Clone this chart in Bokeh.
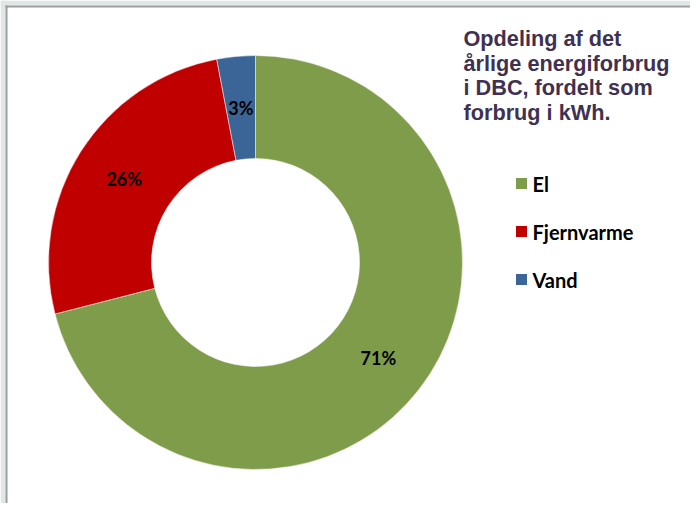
import numpy as np
from bokeh.plotting import figure, ColumnDataSource
from bokeh.models import Range1d, BoxAnnotation
from bokeh.core.properties import value
from bokeh.embed import file_html
from bokeh.resources import INLINE

# ---- data ----
categories = ["El", "Fjernvarme", "Vand"]
shares = [71, 26, 3]
colors = ["#7f9c4a", "#c00000", "#3a6596"]
title_lines = ["Opdeling af det", "årlige energiforbrug", "i DBC, fordelt som", "forbrug i kWh."]

W, H = 690, 503
p = figure(width=W, height=H, output_backend="svg", toolbar_location=None,
           x_range=Range1d(0, W), y_range=Range1d(0, H),
           x_axis_location=None, y_axis_location=None,
           min_border=0, outline_line_color=None, background_fill_color="white",
           border_fill_color="white")
p.grid.visible = False

def X(sx):
    return sx
def Y(sy):
    return H - sy

# page frame (light band + grey rule on top and left)
p.add_layout(BoxAnnotation(left=0, right=5, fill_color="#e1e6e6", fill_alpha=1, line_color=None))
p.add_layout(BoxAnnotation(bottom=H - 5, top=H, fill_color="#e1e6e6", fill_alpha=1, line_color=None))
p.add_layout(BoxAnnotation(left=5, right=7, bottom=0, top=H - 5, fill_color="#9a9e9e", fill_alpha=1, line_color=None))
p.add_layout(BoxAnnotation(left=5, bottom=H - 7, top=H - 5, fill_color="#9a9e9e", fill_alpha=1, line_color=None))

# donut geometry (layout)
cx, cy = X(255), Y(262)
r_out, r_in = 207, 104

vals = np.array(shares, dtype=float)
frac = vals / vals.sum()
cum = np.concatenate([[0], np.cumsum(frac)])
start = np.pi / 2 - 2 * np.pi * cum[:-1]
end = np.pi / 2 - 2 * np.pi * cum[1:]
mid = (start + end) / 2
r_lab = (r_out + r_in) / 2

src = ColumnDataSource(dict(cat=categories, start=start, end=end, color=colors,
                            lx=cx + r_lab * np.cos(mid), ly=cy + r_lab * np.sin(mid),
                            lab=[f"{v:g}%" for v in shares]))
p.annular_wedge(x=cx, y=cy, inner_radius=r_in, outer_radius=r_out,
                start_angle="start", end_angle="end", direction="clock",
                fill_color="color", line_color="white", line_width=0.5, source=src)
p.text(x="lx", y="ly", text="lab", source=src, text_align="center", text_baseline="middle",
       text_font=value("Lato"), text_font_style="bold", text_font_size="18px", text_color="black")

# legend (manual)
lg_x, lg_y0, lg_dy = X(521), Y(183), 48
ly = [lg_y0 - i * lg_dy for i in range(len(categories))]
p.scatter(x=[lg_x] * len(categories), y=ly, marker="square", size=11, fill_color=colors, line_color=None)
p.text(x=[X(532)] * len(categories), y=ly, text=categories, text_align="left", text_baseline="middle",
       text_font=value("Lato"), text_font_style="bold", text_font_size="20px", text_color="black")

# title
t_base = [Y(38) - i * 24.7 for i in range(len(title_lines))]
p.text(x=[X(463)] * len(title_lines), y=t_base, text=title_lines, text_align="left",
       text_baseline="alphabetic", text_font=value("Liberation Sans"), text_font_style="bold",
       text_font_size="21.7px", text_color="#403152")

open("out.html", "w").write(file_html(p, INLINE))
